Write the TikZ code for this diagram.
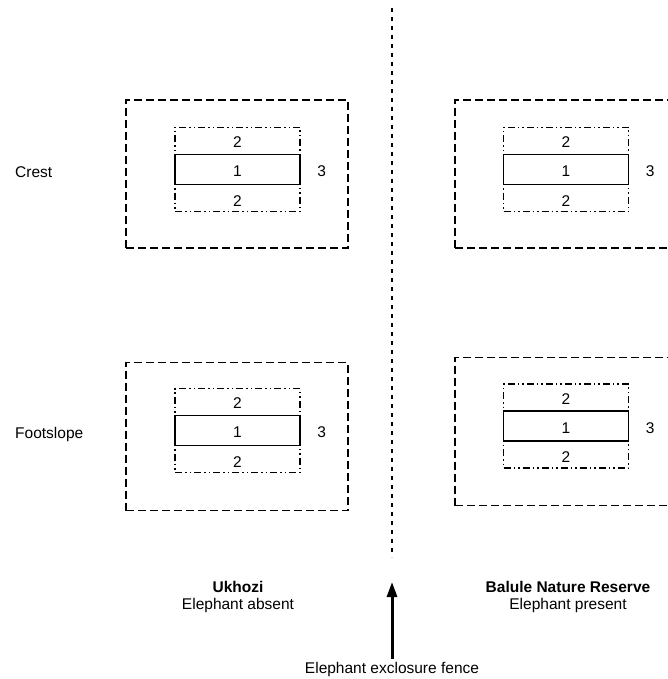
\documentclass[tikz,border=0pt]{standalone}
\usepackage{fontspec}
\setmainfont{Liberation Sans}
\usetikzlibrary{arrows.meta,calc}
\begin{document}
\begin{tikzpicture}[x=1pt,y=-1pt,
  every node/.style={font=\fontsize{15.5}{18}\selectfont, inner sep=0pt},
  zonelabel/.style={yshift=-2pt},
  outerzone/.style={draw, rectangle, line width=1.6pt, dash pattern=on 8pt off 4pt,
    minimum width=222pt, minimum height=148pt},
  bufferzone/.style={draw, rectangle, line width=1.2pt,
    dash pattern=on 7pt off 3pt on 1.5pt off 3pt on 1.5pt off 3pt,
    minimum width=125pt, minimum height=84pt},
  corezone/.style={draw, rectangle, line width=1.5pt,
    minimum width=125pt, minimum height=30pt},
  fenceline/.style={line width=1.5pt, dash pattern=on 4pt off 5pt},
  fencearrow/.style={line width=3pt, -{Triangle[length=15pt,width=10pt]}}]
\useasboundingbox (0,0) rectangle (668,679);

% plot layouts: name / outer centre / inner centre
\foreach \n/\ox/\oy/\ix/\iy in {tl/237/174/237.5/169.5, tr/566/174/566/169.5,
                                 bl/237/436.5/237.5/430.5, br/566/431.5/566/426}{
  \node[outerzone] (\n-out) at (\ox,\oy) {};
  \node[bufferzone] (\n-buf) at (\ix,\iy) {};
  \node[corezone, fill=white] (\n-core) at (\ix,\iy) {};
  \node[zonelabel] (\n-one) at (\n-core.center) {1};
  \node[zonelabel] (\n-up) at ($(\n-buf.north)!0.5!(\n-core.north)$) {2};
  \node[zonelabel] (\n-dn) at ($(\n-buf.south)!0.5!(\n-core.south)$) {2};
  \node[zonelabel] (\n-three) at ([xshift=21pt]\n-core.east) {3};
}

% slope position labels
\node[anchor=west] (crest) at (15,172) {Crest};
\node[anchor=west] (foot) at (15,434) {Footslope};

% fence and site labels
\coordinate (fencetop) at (392,8);
\coordinate (fencebot) at (392,557);
\draw[fenceline] (fencetop) -- (fencebot);

\node (site1) at (238,587) {\textbf{Ukhozi}};
\node (site1b) at (238,605) {Elephant absent};
\node (site2) at (568,587) {\textbf{Balule Nature Reserve}};
\node (site2b) at (568,605) {Elephant present};

\node (fence) at (392,669) {Elephant exclosure fence};
\coordinate (arrowtip) at (392,582);
\draw[fencearrow] ([yshift=3pt]fence.north) -- (arrowtip);
\end{tikzpicture}
\end{document}
